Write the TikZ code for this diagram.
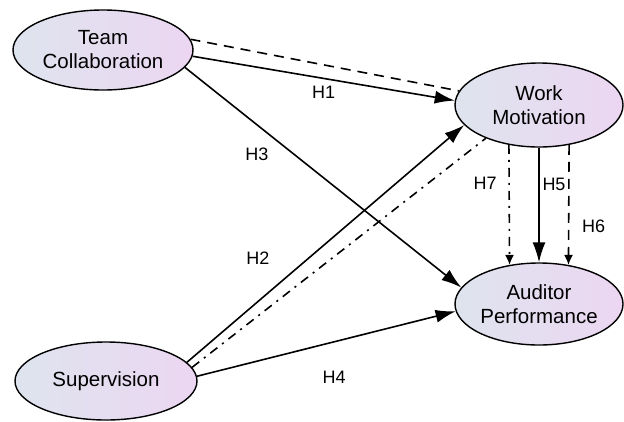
\documentclass[tikz,border=0pt]{standalone}
\usepackage{fontspec}
\setmainfont{Liberation Sans}
\usepackage{tikz}
\usetikzlibrary{shapes}
\usetikzlibrary{arrows.meta}
\definecolor{bulleg}{RGB}{222,228,238}
\definecolor{bulled}{RGB}{236,214,242}
\tikzstyle{construit}=[
        ellipse,
        draw,
        line width=1.4pt,
        left color=bulleg,
        right color=bulled,
        inner sep=0pt,
        minimum width=180pt,
        minimum height=80pt,
        align=center,
        font=\fontsize{20.5}{24}\selectfont
]
\tikzstyle{hyp}=[font=\fontsize{18}{20}\selectfont]
\tikzstyle{lien}=[line width=1.6pt]
\tikzstyle{suite}=[-{Latex[length=20pt,width=13pt]},line width=1.6pt]
\tikzstyle{petite}=[-{Latex[length=10pt,width=9pt]},line width=1.6pt]
\tikzstyle{tirets}=[dash pattern=on 10pt off 7pt]
\tikzstyle{mixte}=[dash pattern=on 9pt off 6pt on 2pt off 6pt]

\begin{document}
\begin{tikzpicture}[x=1pt,y=-1pt]
\useasboundingbox (0,0) rectangle (624,421);
\node[construit] (tc) at (103,50) {Team\\Collaboration};
\node[construit,minimum width=168pt,minimum height=84pt] (wm) at (539,105) {Work\\Motivation};
\node[construit,minimum width=168pt,minimum height=82pt] (ap) at (539,304) {Auditor\\Performance};
\node[construit,minimum width=182pt,minimum height=78pt] (sup) at (106,381) {Supervision};
%Placement des fleches
\draw[lien,tirets] (tc.7) -- (wm.170);
\draw[suite] (tc.-4) -- (wm.177) node[hyp,pos=0.5,yshift=-14pt]{H1};
\draw[suite] (tc.-12) -- (ap.168) node[hyp,pos=0.26,yshift=-30pt]{H3};
\draw[suite] (sup.13) -- (wm.195) node[hyp,pos=0.44,xshift=-51pt]{H2};
\draw[lien,mixte] (sup.9) -- (wm.212);
\draw[suite] (sup.3) -- (ap.185) node[hyp,pos=0.53,yshift=-35pt]{H4};
\draw[petite,mixte] (wm.233) -- (ap.127) node[hyp,pos=0.32,xshift=-24pt]{H7};
\draw[suite] (wm.south) -- (ap.north) node[hyp,pos=0.32,xshift=15pt]{H5};
\draw[petite,tirets] (wm.-53) -- (ap.53) node[hyp,pos=0.68,xshift=25pt]{H6};
\end{tikzpicture}
\end{document}
